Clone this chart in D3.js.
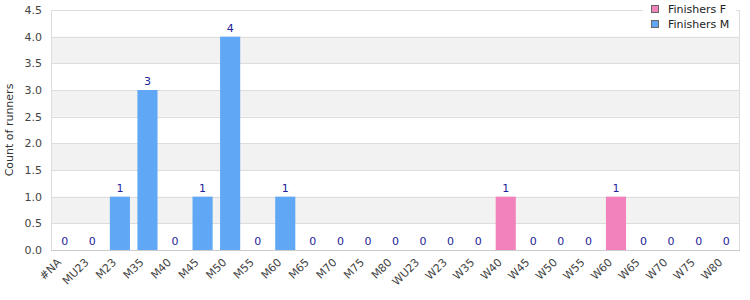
<!DOCTYPE html>
<html lang="en">
<head>
<meta charset="utf-8">
<title>Count of runners</title>
<script src="https://d3js.org/d3.v7.min.js"></script>
<style>
  body { margin: 0; background: #fff; }
  text { font-family: "DejaVu Sans", Verdana, sans-serif; }
</style>
</head>
<body>
<div id="chart"></div>
<script>
// data
var categories = ["#NA","MU23","M23","M35","M40","M45","M50","M55","M60","M65","M70","M75","M80",
  "WU23","W23","W35","W40","W45","W50","W55","W60","W65","W70","W75","W80"];
// F = women, M = men; which series a category belongs to
var seriesOf = ["M","M","M","M","M","M","M","M","M","M","M","M","M",
  "F","F","F","F","F","F","F","F","F","F","F","F"];
var counts = [0,0,1,3,0,1,4,0,1,0,0,0,0, 0,0,0,1,0,0,0,1,0,0,0,0];
var yTicks = [0,0.5,1,1.5,2,2.5,3,3.5,4,4.5];
var legendItems = [{name: "Finishers F", key: "F"}, {name: "Finishers M", key: "M"}];
var colors = {F: "#f282bb", M: "#60a8f5"};

var w = 750, h = 300;
var margin = {left: 51, right: 10, top: 10, bottom: 50};

var svg = d3.select("#chart").append("svg")
  .attr("width", w).attr("height", h);

var x = d3.scaleBand().domain(categories)
  .range([margin.left, w - margin.right])
  .paddingInner(0.27).paddingOuter(0.135);
var y = d3.scaleLinear().domain([0, 4.5]).range([h - margin.bottom, margin.top]);

// alternating bands
var bands = svg.append("g");
for (var i = 0; i < yTicks.length - 1; i++) {
  if (i % 2 == 1) {
    bands.append("rect")
      .attr("x", margin.left).attr("width", w - margin.right - margin.left)
      .attr("y", y(yTicks[i + 1])).attr("height", y(yTicks[i]) - y(yTicks[i + 1]))
      .attr("fill", "#f2f2f2");
  }
}

// grid
svg.append("g").selectAll("line").data(yTicks).enter().append("line")
  .attr("x1", margin.left).attr("x2", w - margin.right)
  .attr("y1", function(d) { return Math.round(y(d)) + 0.5; })
  .attr("y2", function(d) { return Math.round(y(d)) + 0.5; })
  .attr("stroke", "#dddddd");

// frame
svg.append("rect")
  .attr("x", margin.left + 0.5).attr("y", margin.top + 0.5)
  .attr("width", w - margin.right - margin.left - 1)
  .attr("height", h - margin.bottom - margin.top)
  .attr("fill", "none").attr("stroke", "#dddddd");
svg.append("line")
  .attr("x1", margin.left).attr("x2", w - margin.right)
  .attr("y1", y(0) + 0.5).attr("y2", y(0) + 0.5)
  .attr("stroke", "#cccccc");

// y axis labels
svg.append("g").selectAll("text").data(yTicks).enter().append("text")
  .attr("x", margin.left - 9).attr("y", function(d) { return y(d) + 4; })
  .attr("text-anchor", "end").attr("font-size", 11).attr("fill", "#444")
  .text(function(d) { return d3.format(".1f")(d); });

svg.append("text")
  .attr("transform", "translate(13," + ((margin.top + h - margin.bottom) / 2) + ") rotate(-90)")
  .attr("text-anchor", "middle").attr("font-size", 11).attr("fill", "#333")
  .text("Count of runners");

// x labels
svg.append("g").selectAll("text").data(categories).enter().append("text")
  .attr("transform", function(d) {
    return "translate(" + (x(d) + x.bandwidth() / 2 - 3) + "," + (y(0) + 13) + ") rotate(-45)";
  })
  .attr("text-anchor", "end").attr("font-size", 11).attr("fill", "#444")
  .text(function(d) { return d; });

// bars
svg.append("g").selectAll("rect").data(categories).enter().append("rect")
  .attr("x", function(d) { return x(d); })
  .attr("width", x.bandwidth())
  .attr("y", function(d, i) { return y(counts[i]); })
  .attr("height", function(d, i) { return y(0) - y(counts[i]); })
  .attr("fill", function(d, i) { return colors[seriesOf[i]]; });

// value labels
svg.append("g").selectAll("text").data(categories).enter().append("text")
  .attr("x", function(d) { return x(d) + x.bandwidth() / 2; })
  .attr("y", function(d, i) { return y(counts[i]) - 5; })
  .attr("text-anchor", "middle").attr("font-size", 11).attr("fill", "#22229a")
  .text(function(d, i) { return counts[i]; });

// legend
var legend = svg.append("g");
legend.append("rect").attr("x", 643).attr("y", 0).attr("width", 93).attr("height", 32).attr("fill", "#fff");
legendItems.forEach(function(it, i) {
  legend.append("rect")
    .attr("x", 651.5).attr("y", 5.5 + i * 15).attr("width", 7).attr("height", 7)
    .attr("fill", colors[it.key]).attr("stroke", "#666");
  legend.append("text")
    .attr("x", 668).attr("y", 12.5 + i * 15)
    .attr("font-size", 11).attr("fill", "#222")
    .text(it.name);
});
</script>
</body>
</html>
